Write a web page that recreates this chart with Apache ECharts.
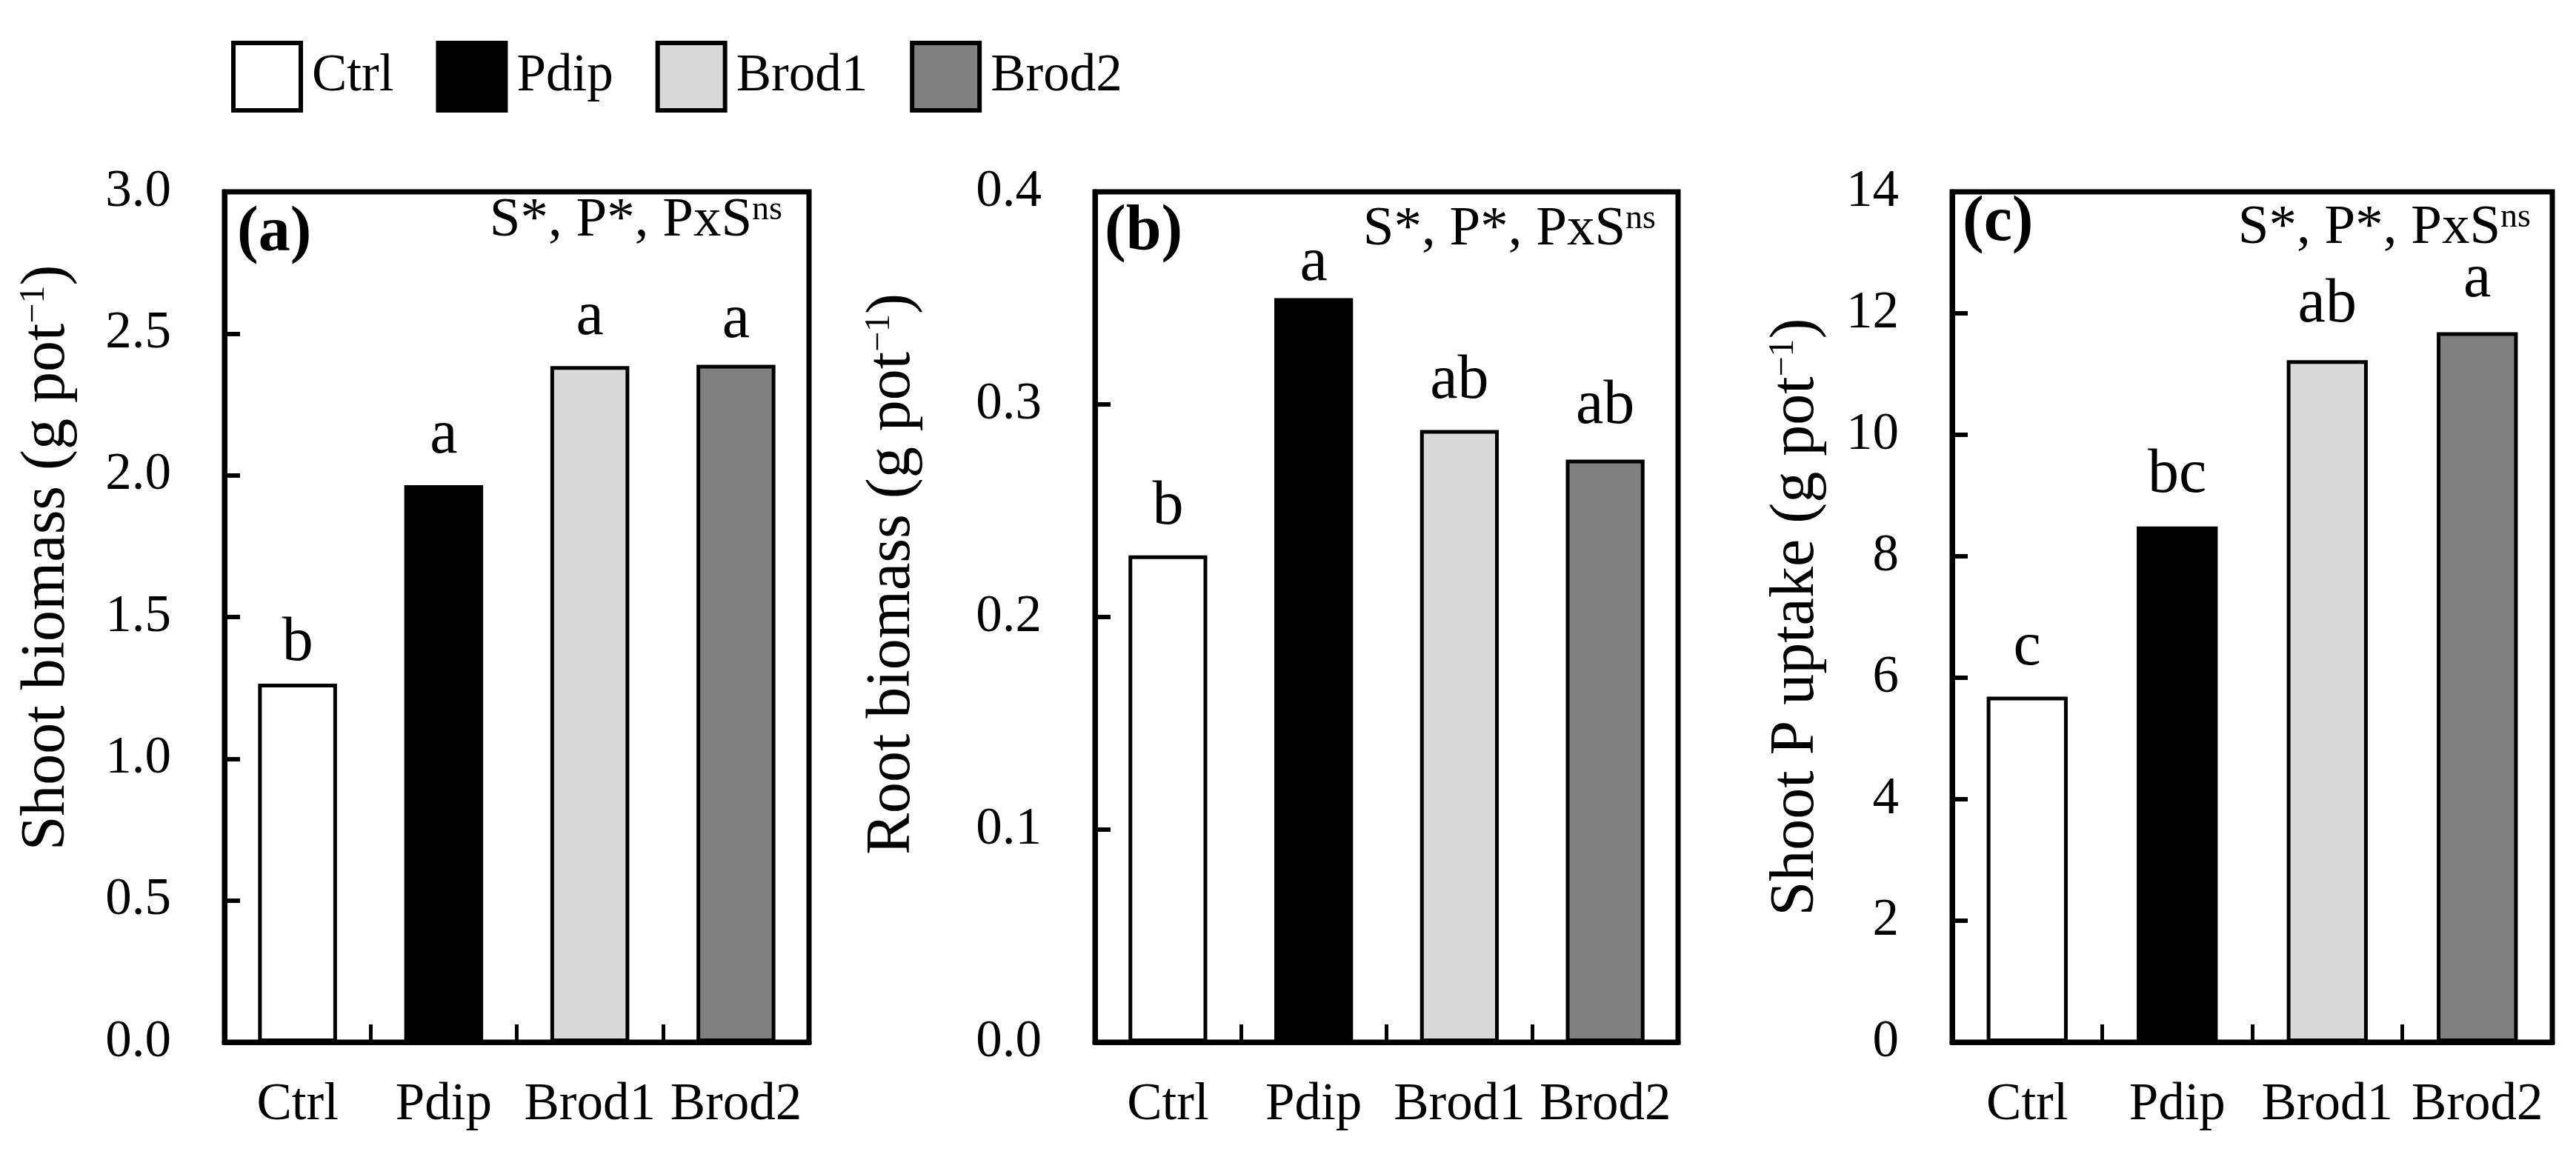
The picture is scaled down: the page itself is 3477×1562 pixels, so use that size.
<!DOCTYPE html>
<html>
<head>
<meta charset="utf-8">
<script src="https://cdn.jsdelivr.net/npm/echarts@6/dist/echarts.min.js"></script>
<style>
html,body{margin:0;padding:0;background:#fff;}
#chart{width:3477px;height:1562px;}
</style>
</head>
<body>
<div id="chart"></div>
<script>
// ---- data ----
const categories = ['Ctrl', 'Pdip', 'Brod1', 'Brod2'];
const shootBiomass = [1.265, 1.965, 2.385, 2.39];
const rootBiomass = [0.229, 0.350, 0.288, 0.274];
const shootPUptake = [5.69, 8.49, 11.23, 11.69];
const lettersA = ['b', 'a', 'a', 'a'];
const lettersB = ['b', 'a', 'ab', 'ab'];
const lettersC = ['c', 'bc', 'ab', 'a'];
const yTitleA = 'Shoot biomass (g pot';
const yTitleB = 'Root biomass (g pot';
const yTitleC = 'Shoot P uptake (g pot';
const unitSup = '\u22121';
const panelTags = ['(a)', '(b)', '(c)'];
const statsMain = 'S*, P*, PxS';
const statsSup = 'ns';
const yMaxes = [3, 0.4, 14];
const yIntervals = [0.5, 0.1, 2];
const yDecimals = [1, 1, 0];

// ---- style ----
const FONT = "'Liberation Serif', 'Times New Roman', serif";
const barColors = ['#ffffff', '#000000', '#d9d9d9', '#808080'];
const gridLeft = [303, 1478, 2635];
const gridWidth = [789, 787, 810];
const gridTop = 259, gridHeight = 1148;
const labelGaps = [[12, 24, 23, 17], [23, 5, 24, 30], [23, 27, 32, 28]];
const nameGaps = [197, 231, 168];
const nameShift = [160, 116, 0];
const statsRight = [2421, 1242, 61];
const statsTop = [261, 273, 271];
const tagLeft = [320, 1491, 2649];
const tagTop = [273, 271, 259];

const panelValues = [shootBiomass, rootBiomass, shootPUptake];
const panelLetters = [lettersA, lettersB, lettersC];
const panelNames = [yTitleA, yTitleB, yTitleC];

const grids = [], xAxes = [], yAxes = [], series = [], titles = [];
for (let p = 0; p < 3; p++) {
  grids.push({
    left: gridLeft[p], width: gridWidth[p], top: gridTop, height: gridHeight,
    show: true, borderColor: '#000', borderWidth: 7, backgroundColor: 'transparent'
  });
  xAxes.push({
    type: 'category', gridIndex: p, data: categories, z: 5,
    axisLine: { show: true, lineStyle: { color: '#000', width: 7 } },
    axisTick: { show: true, inside: true, length: 24, interval: 0, lineStyle: { color: '#000', width: 5 } },
    axisLabel: { interval: 0, margin: 50, fontSize: 71, fontFamily: FONT, color: '#000' },
    splitLine: { show: false }
  });
  const dec = yDecimals[p];
  yAxes.push({
    type: 'value', gridIndex: p, min: 0, max: yMaxes[p], interval: yIntervals[p], z: 5,
    name: panelNames[p] + '{sup|' + unitSup + '})',
    nameLocation: 'middle', nameGap: nameGaps[p],
    nameTextStyle: {
      fontSize: 84, fontFamily: FONT, fontWeight: 'normal', color: '#000', lineHeight: 84,
      padding: [0, 0, 0, nameShift[p]],
      rich: { sup: { fontSize: 48, lineHeight: 48, fontFamily: FONT, fontWeight: 'normal', color: '#000', verticalAlign: 'top' } }
    },
    axisLine: { show: true, lineStyle: { color: '#000', width: 7 } },
    axisTick: { show: true, inside: true, length: 21, lineStyle: { color: '#000', width: 6 } },
    axisLabel: { margin: 72, fontSize: 71, fontFamily: FONT, color: '#000',
      formatter: v => Number(v).toFixed(dec) },
    splitLine: { show: false }
  });
  const vals = panelValues[p];
  const lets = panelLetters[p];
  for (let i = 0; i < categories.length; i++) {
    series.push({
      type: 'bar', name: categories[i], xAxisIndex: p, yAxisIndex: p,
      barWidth: '54%', barGap: '-100%',
      itemStyle: { color: barColors[i], borderColor: '#000', borderWidth: 5 },
      label: {
        show: true, position: 'top', fontSize: 84, fontFamily: FONT, color: '#000',
        formatter: () => lets[i]
      },
      emphasis: { disabled: true },
      data: vals.map((v, j) => j === i ? { value: v, label: { distance: labelGaps[p][j] } } : '-')
    });
  }
  titles.push({
    text: '{m|' + statsMain + '}{s|' + statsSup + '}',
    right: statsRight[p], top: statsTop[p], padding: 0,
    textStyle: {
      fontWeight: 'normal', fontFamily: FONT, fontSize: 75, color: '#000',
      rich: {
        m: { fontSize: 75, lineHeight: 75, fontFamily: FONT, fontWeight: 'normal', color: '#000' },
        s: { fontSize: 46, lineHeight: 46, fontFamily: FONT, fontWeight: 'normal', color: '#000', verticalAlign: 'top' }
      }
    }
  });
  titles.push({
    text: panelTags[p], left: tagLeft[p], top: tagTop[p], padding: 0,
    textStyle: { fontSize: 86, fontWeight: 'bold', fontFamily: FONT, color: '#000' }
  });
}

const chart = echarts.init(document.getElementById('chart'), null, { renderer: 'canvas' });
chart.setOption({
  backgroundColor: '#ffffff',
  animation: false,
  textStyle: { fontFamily: FONT, color: '#000' },
  title: titles,
  legend: {
    data: categories, left: 307, top: 50, orient: 'horizontal',
    icon: 'rect', itemWidth: 91, itemHeight: 91, itemGap: 57,
    itemStyle: { borderColor: '#000', borderWidth: 6 },
    textStyle: { fontSize: 71, fontFamily: FONT, color: '#000', padding: [0, 0, 0, 10] },
    selectedMode: false
  },
  grid: grids,
  xAxis: xAxes,
  yAxis: yAxes,
  series: series
});
</script>
</body>
</html>
